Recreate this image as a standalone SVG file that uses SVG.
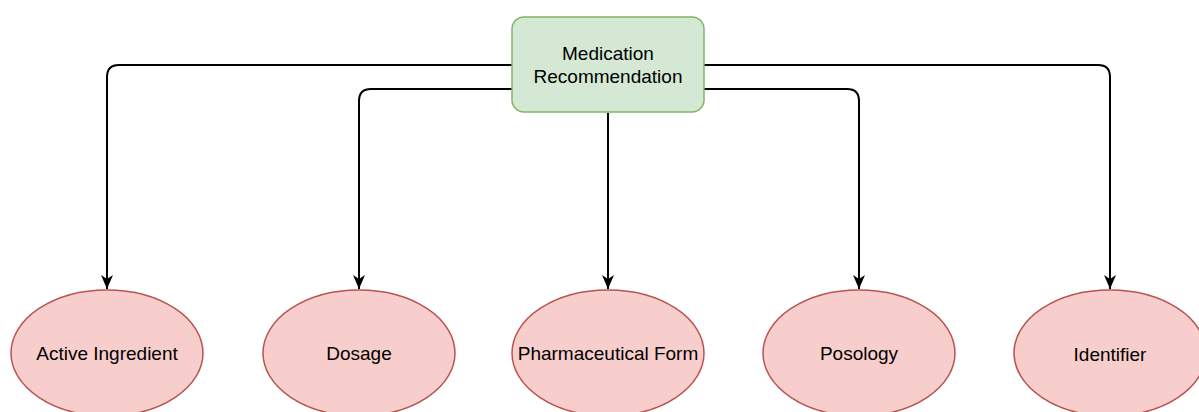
<svg xmlns="http://www.w3.org/2000/svg" width="1199" height="412" viewBox="0 0 1199 412">
  <style>
    .edge { fill: none; stroke: #000; stroke-width: 2; }
    .root { fill: #d5e8d4; stroke: #82b366; stroke-width: 1.5; }
    .leaf { fill: #f8cecc; stroke: #b85450; stroke-width: 1.5; }
    .label { font-family: "Liberation Sans", Arial, sans-serif; font-size: 19px; fill: #000; text-anchor: middle; }
  </style>
  <defs>
    <marker id="arrow" viewBox="0 0 14 12" refX="14" refY="6" markerWidth="14" markerHeight="12" markerUnits="userSpaceOnUse" orient="auto">
      <path d="M0,0 L14,6 L0,12 L4,6 Z" fill="#000"/>
    </marker>
  </defs>

  <g id="connectors">
    <path class="edge" d="M512,65 H119 Q107,65 107,77 V289" marker-end="url(#arrow)"/>
    <path class="edge" d="M512,89 H371 Q359,89 359,101 V289" marker-end="url(#arrow)"/>
    <path class="edge" d="M608,113 V289" marker-end="url(#arrow)"/>
    <path class="edge" d="M704,89 H847 Q859,89 859,101 V289" marker-end="url(#arrow)"/>
    <path class="edge" d="M704,65 H1098 Q1110,65 1110,77 V289" marker-end="url(#arrow)"/>
  </g>

  <g id="medication-recommendation">
    <rect class="root" x="512" y="17" width="192" height="95" rx="12" ry="12"/>
    <text class="label" x="608" y="60">Medication</text>
    <text class="label" x="608" y="83">Recommendation</text>
  </g>

  <g id="active-ingredient">
    <ellipse class="leaf" cx="107" cy="353" rx="96" ry="63"/>
    <text class="label" x="107" y="360">Active Ingredient</text>
  </g>

  <g id="dosage">
    <ellipse class="leaf" cx="359" cy="353" rx="96" ry="63"/>
    <text class="label" x="359" y="360">Dosage</text>
  </g>

  <g id="pharmaceutical-form">
    <ellipse class="leaf" cx="608" cy="353" rx="96" ry="63"/>
    <text class="label" x="608" y="360">Pharmaceutical Form</text>
  </g>

  <g id="posology">
    <ellipse class="leaf" cx="859" cy="353" rx="96" ry="63"/>
    <text class="label" x="859" y="360">Posology</text>
  </g>

  <g id="identifier">
    <ellipse class="leaf" cx="1110" cy="353" rx="96" ry="63"/>
    <text class="label" x="1110" y="361">Identifier</text>
  </g>
</svg>
